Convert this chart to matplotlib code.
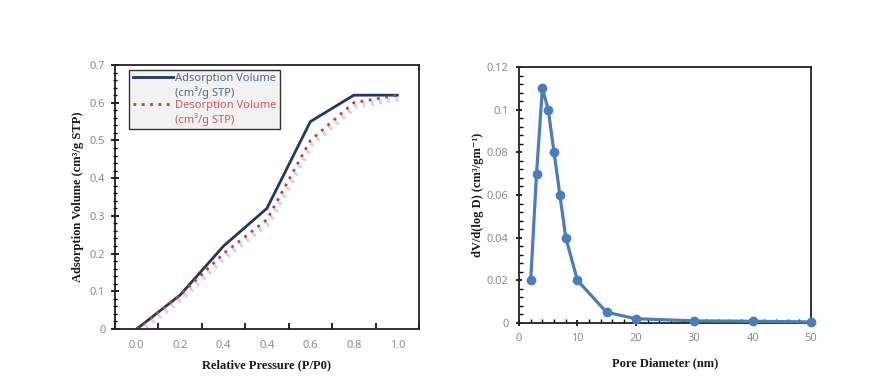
import matplotlib
matplotlib.use('Agg')
import matplotlib.pyplot as plt
import matplotlib.patheffects as pe
from matplotlib.lines import Line2D
from matplotlib.ticker import MultipleLocator, FixedLocator

# left chart: isotherm (categorical x axis as in the original)
pressure_labels = ['0.0', '0.2', '0.4', '0.4', '0.6', '0.8', '1.0']
adsorption = [0.0, 0.09, 0.22, 0.32, 0.55, 0.62, 0.62]
desorption = [0.0, 0.09, 0.20, 0.29, 0.50, 0.60, 0.62]

# right chart: pore size distribution
pore_diameter = [2, 3, 4, 5, 6, 7, 8, 10, 15, 20, 30, 40, 50]
dv_dlogd = [0.02, 0.07, 0.11, 0.10, 0.08, 0.06, 0.04, 0.02, 0.005, 0.002, 0.001, 0.0008, 0.0005]

TICK_FONT = dict(family='Noto Sans', size=8, color='#8c8c8c')
LABEL_FONT = dict(family=['Liberation Serif', 'DejaVu Serif'], size=9, weight='bold', color='#1a1a1a')

fig = plt.figure(figsize=(8.77, 3.89), dpi=100)

# ---------- left panel ----------
ax1 = fig.add_axes([0.1311, 0.1542, 0.3466, 0.6787])
x_idx = list(range(len(pressure_labels)))
ads_line, = ax1.plot(x_idx, adsorption, color='#203864', lw=2.0)
shadow = [pe.SimpleLineShadow(offset=(1.5, -2.5), shadow_color='#9bb7de',
                              alpha=0.55, linewidth=3.5), pe.Normal()]
des_line, = ax1.plot(x_idx, desorption, color='#d0392f', lw=2.0, linestyle=(0, (1, 2)),
                     path_effects=shadow)
ax1.set_xlim(-0.5, len(pressure_labels) - 0.5)
ax1.set_ylim(0, 0.7)
ax1.xaxis.set_major_locator(FixedLocator(x_idx))
ax1.set_xticklabels(pressure_labels, **TICK_FONT)
ax1.xaxis.set_minor_locator(FixedLocator([i - 0.5 for i in range(len(pressure_labels) + 1)]))
ax1.tick_params(axis='x', which='major', length=0, pad=8)
ax1.tick_params(axis='x', which='minor', direction='in', length=4, width=1.2)
ax1.yaxis.set_minor_locator(MultipleLocator(0.02))
ax1.set_yticks([round(v * 0.1, 1) for v in range(8)])
ax1.set_yticklabels(['0'] + [f'{v * 0.1:.1f}' for v in range(1, 8)], **TICK_FONT)
ax1.tick_params(axis='y', which='major', direction='inout', length=6, width=1.2, pad=4)
ax1.tick_params(axis='y', which='minor', direction='inout', length=3, width=1.0)
for s in ax1.spines.values():
    s.set_color('#222222')
    s.set_linewidth(1.3)
ax1.set_xlabel('Relative Pressure (P/P0)', labelpad=6, **LABEL_FONT)
ax1.set_ylabel('Adsorption Volume (cm³/g STP)', labelpad=4, **LABEL_FONT)

# legend: handle sits on first text line, unit goes on a second row
blank = Line2D([], [], linestyle='none')
handles = [Line2D([], [], color='#203864', lw=2.0), blank,
           Line2D([], [], color='#d0392f', lw=2.0, linestyle=(0, (1, 2))), blank]
labels = ['Adsorption Volume', '(cm³/g STP)', 'Desorption Volume', '(cm³/g STP)']
leg = ax1.legend(handles, labels, loc='upper left', bbox_to_anchor=(0.04, 0.99),
                 frameon=True, fancybox=False, handlelength=3.6, handletextpad=0.2,
                 borderpad=0.3, labelspacing=0.15, borderaxespad=0.2,
                 prop=dict(family='Noto Sans', size=8))
leg.get_frame().set_facecolor('#f2f2f2')
leg.get_frame().set_edgecolor('#333333')
leg.get_frame().set_linewidth(1.0)
leg.get_frame().set_alpha(1)
for t, c in zip(leg.get_texts(), ['#4a6a9a', '#4a6a9a', '#d05a55', '#d05a55']):
    t.set_color(c)

# ---------- right panel ----------
ax2 = fig.add_axes([0.5918, 0.1697, 0.3330, 0.6581])
ax2.plot(pore_diameter, dv_dlogd, color='#4a7ebb', lw=2.3, marker='o', markersize=6,
         clip_on=False, zorder=3)
ax2.set_xlim(0, 50)
ax2.set_ylim(0, 0.12)
ax2.xaxis.set_minor_locator(MultipleLocator(2))
ax2.yaxis.set_minor_locator(MultipleLocator(0.004))
ax2.set_yticks([0, 0.02, 0.04, 0.06, 0.08, 0.1, 0.12])
ax2.set_yticklabels(['0', '0.02', '0.04', '0.06', '0.08', '0.1', '0.12'], **TICK_FONT)
ax2.set_xticks([0, 10, 20, 30, 40, 50])
ax2.set_xticklabels(['0', '10', '20', '30', '40', '50'], **TICK_FONT)
ax2.tick_params(axis='both', which='major', direction='inout', length=5, width=1.2, pad=5)
ax2.tick_params(axis='both', which='minor', direction='in', length=3, width=1.0)
for s in ax2.spines.values():
    s.set_color('#222222')
    s.set_linewidth(1.3)
ax2.set_xlabel('Pore Diameter (nm)', labelpad=9, **LABEL_FONT)
ax2.set_ylabel('dV/d(log D) (cm³/gm⁻¹)', labelpad=2, **LABEL_FONT)

fig.savefig('out.png', dpi=100)
